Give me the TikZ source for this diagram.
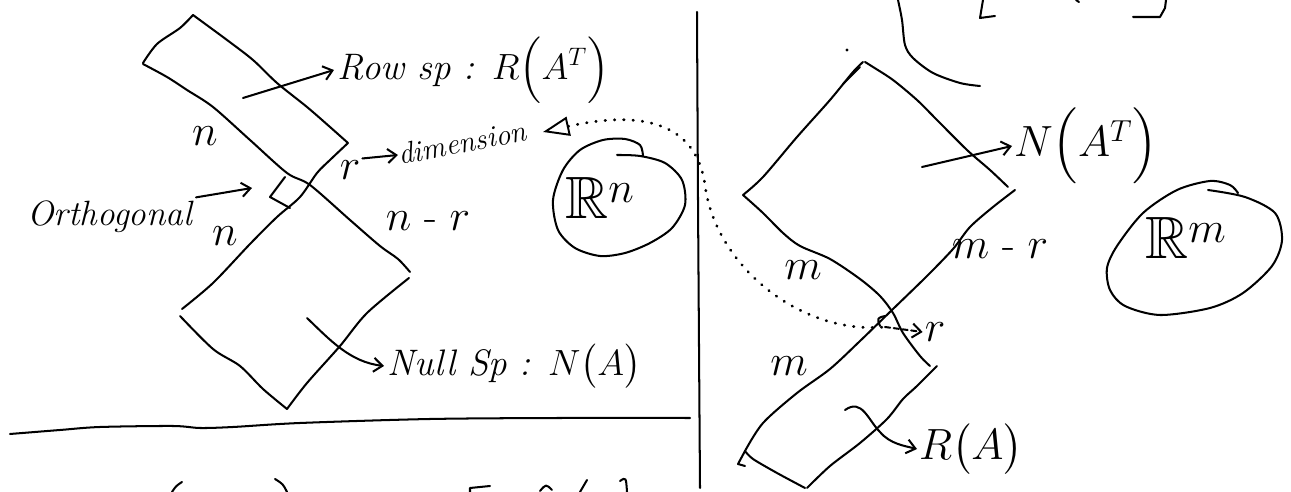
\documentclass[tikz,border=0pt]{standalone}
\usepackage{amsmath}
\usepackage{amssymb}
\usetikzlibrary{arrows.meta}

\tikzset{
  ink/.style={line width=1.15pt, line cap=round, line join=round},
  dots/.style={ink, line width=1.6pt, dash pattern=on 0.3pt off 5pt},
  hook/.style={-{Straight Barb[length=5pt,width=8pt]}},
  word/.style={inner sep=2pt, font=\fontsize{21}{25}\selectfont\itshape},
  sym/.style={inner sep=1pt, font=\fontsize{24}{28}\selectfont},
  space/.style={inner sep=0pt, font=\fontsize{34}{40}\selectfont},
}

\begin{document}
\begin{tikzpicture}[x=0.02cm, y=-0.02cm]
\useasboundingbox (0,0) rectangle (1291,492);

% dividers
\draw[ink] plot[smooth] coordinates {(10,434) (60,430) (100,427) (173,426) (200,428) (233,427) (300,423) (430,419) (560,418) (690,418)};
\draw[ink] plot[smooth] coordinates {(697,12) (698,200) (700,488)};

% left: row space and null space
\draw[ink] plot[smooth] coordinates {(143,63) (157,44) (180,28) (193,15)};
\draw[ink] plot[smooth] coordinates {(193,15) (227,40) (253,60) (277,83) (307,107) (330,127) (348,143)};
\draw[ink] plot[smooth] coordinates {(143,64) (167,77) (187,90) (213,107) (250,140) (287,173) (310,185) (350,220) (380,246) (398,259) (410,272)};
\draw[ink] plot[smooth] coordinates {(348,143) (330,160) (317,173) (300,197) (277,217) (250,244) (213,283) (182,309)};
\draw[ink] plot[smooth] coordinates {(409,278) (367,313) (340,346) (307,383) (287,409)};
\draw[ink] plot[smooth] coordinates {(287,409) (263,389) (240,366) (213,349) (180,316)};
\draw[ink] (285,177) -- (270,197) -- (290,208);

\node[word, anchor=base east, font=\fontsize{20}{24}\selectfont\itshape] (orth) at (196,226) {Orthogonal};
\coordinate (orthtip) at (252,188);
\draw[ink,hook] (orth.north east) -- (orthtip);

\node[word, anchor=west] (rowsp) at (334,70) {Row sp : $R\Bigl(A^T\Bigr)$};
\coordinate (rowtail) at (243,98);
\draw[ink,hook] (rowtail) -- (rowsp.west);

\node[word, anchor=west] (nullsp) at (384,366) {Null Sp : $N\bigl(A\bigr)$};
\coordinate (nulltail) at (307,318);
\draw[ink,hook] (nulltail) .. controls (330,340) and (350,362) .. (nullsp.west);

\node[sym] (nup) at (205,136) {$n$};
\node[sym] (nlow) at (225,236) {$n$};
\node[sym] (nminusr) at (428,221) {$n$ - $r$};
\node[sym] (rdim) at (350,170) {$r$};
\node[rotate=11, anchor=west, inner sep=0pt, font=\fontsize{17}{20}\selectfont\itshape] (dim) at (398,155) {dimension};
\draw[ink,hook] (rdim.north east) -- (dim.west);

% R^n
\draw[ink] plot[smooth] coordinates {(643,156) (640,145) (625,139) (603,140) (580,150) (563,170) (553,200) (558,230) (575,248) (600,256) (625,253) (650,243) (672,228) (685,205) (682,180) (665,163) (640,156) (617,155)};
\node[space] (rn) at (600,198) {$\mathbb{R}^n$};

% right: left null space and column space
\draw[ink] plot[smooth] coordinates {(743,195) (763,177) (797,137) (830,100) (853,72) (863,62)};
\draw[ink] (843,84) -- (860,67);
\fill (847,50) circle[radius=1.6];
\draw[ink] plot[smooth] coordinates {(865,62) (873,67) (893,80) (917,100) (937,120) (967,150) (990,170) (1008,187)};
\draw[ink] plot[smooth] coordinates {(1015,190) (993,207) (970,227) (953,249) (927,276) (893,309) (860,341) (830,369) (797,393) (763,423) (745,451)};
\draw[ink] plot[smooth] coordinates {(743,195) (763,213) (783,233) (800,246) (830,259) (860,279) (880,296) (893,313) (903,333) (920,356) (930,366)};
\draw[ink] plot[smooth] coordinates {(937,366) (917,386) (903,399) (887,419) (860,443) (830,466) (807,488)};
\draw[ink] plot[smooth] coordinates {(805,488) (777,473) (753,459) (745,451)};
\draw[ink] (745,451) -- (738,464) -- (745,466);

\node[sym, anchor=west] (nat) at (1012,146) {$N\Bigl(A^T\Bigr)$};
\coordinate (nattail) at (922,167);
\draw[ink,hook] (nattail) -- (nat.west);

\node[sym, anchor=west] (ra) at (917,449) {$R\bigl(A\bigr)$};
\coordinate (ratail) at (845,410);
\draw[ink,hook] (ratail) .. controls (862,398) and (868,420) .. (880,432) .. controls (890,444) and (905,446) .. (ra.west);

\node[sym] (mup) at (803,270) {$m$};
\node[sym] (mlow) at (789,366) {$m$};
\node[sym] (mminusr) at (1000,249) {$m$ - $r$};
\node[sym] (rcross) at (935,332) {$r$};

% dotted link
\coordinate (dimhead) at (543,132);
\coordinate (xing) at (885,327);
\draw[dots, {Triangle[open,length=15pt,width=11pt,line width=1.1pt]}-] (dimhead) .. controls (650,108) and (697,128) .. (705,185) .. controls (715,265) and (800,335) .. (xing);
\draw[ink] (885,316) .. controls (877,318) .. (880,326);
\draw[ink, dash pattern=on 3pt off 2pt, hook] (xing) -- (rcross.west);

% R^m
\draw[ink] plot[smooth] coordinates {(1238,193) (1230,185) (1210,181) (1177,190) (1143,213) (1117,246) (1107,268) (1110,290) (1125,306) (1160,315) (1210,308) (1243,293) (1272,266) (1282,240) (1275,213) (1245,197) (1208,190)};
\node[space] (rm) at (1186,238) {$\mathbb{R}^m$};

% cut-off strokes at the edges
\draw[ink] plot[smooth] coordinates {(898,0) (902,20) (905,45) (913,58) (933,73) (960,83) (980,86)};
\draw[ink] (983,0) -- (980,18) -- (995,16);
\draw[ink] (1133,17) -- (1160,17) -- (1165,8) -- (1166,0);
\draw[ink] (1076,0) -- (1079,2);
\draw[ink] (182,482) .. controls (176,486) .. (172,492);
\draw[ink] (275,479) .. controls (283,484) .. (287,492);
\draw[ink] (470,492) -- (470,488) -- (490,486);
\draw[ink] (540,491) .. controls (546,484) .. (552,490);
\draw[ink] (580,492) -- (587,480);
\draw[ink] (620,481) .. controls (626,477) .. (627,492);
\end{tikzpicture}
\end{document}
